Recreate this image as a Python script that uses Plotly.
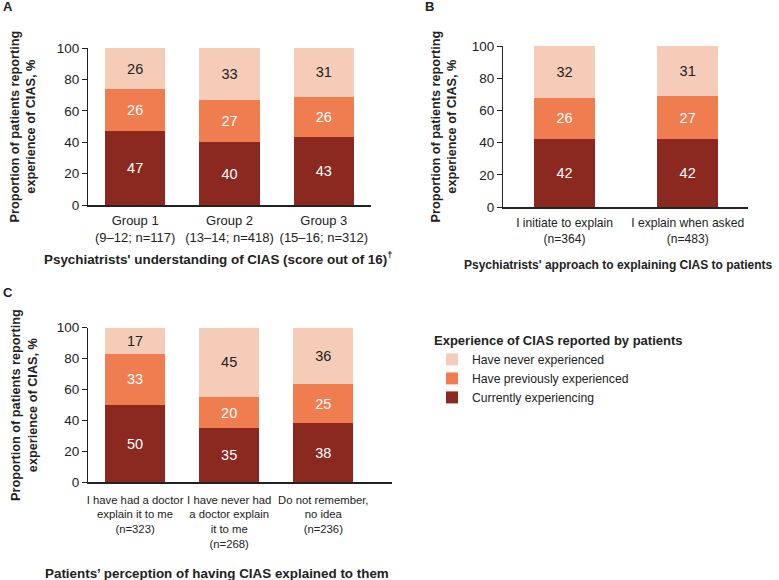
import plotly.graph_objects as go

FONT = "Liberation Sans, Arial, sans-serif"
W, H = 779, 580

series_names = ["Currently experiencing", "Have previously experienced", "Have never experienced"]
series_colors = ["#8B2820", "#F07D4F", "#F5CCB8"]
text_colors = ["#FFFFFF", "#FFFFFF", "#222222"]

# Panel A
cats_a = ["Group 1<br>(9–12; n=117)", "Group 2<br>(13–14; n=418)", "Group 3<br>(15–16; n=312)"]
a_current = [47.2, 40, 43]
a_previous = [26.4, 27, 26]
a_never = [26.4, 33, 31]

# Panel B
cats_b = ["I initiate to explain<br>(n=364)", "I explain when asked<br>(n=483)"]
b_current = [42, 42]
b_previous = [26, 27]
b_never = [32, 31]

# Panel C
cats_c = ["I have had a doctor<br>explain it to me<br>(n=323)",
          "I have never had<br>a doctor explain<br>it to me<br>(n=268)",
          "Do not remember,<br>no idea<br>(n=236)"]
c_current = [50, 35, 38.2]
c_previous = [33, 20, 25.4]
c_never = [17, 45, 36.4]

y_ticks = [0, 20, 40, 60, 80, 100]

panels = [
    ("x", "y", cats_a, [a_current, a_previous, a_never], 0.64, True),
    ("x2", "y2", cats_b, [b_current, b_previous, b_never], 0.5, False),
    ("x3", "y3", cats_c, [c_current, c_previous, c_never], 0.64, False),
]

fig = go.Figure()
for xa, ya, cats, vals, bw, show in panels:
    for i, v in enumerate(vals):
        fig.add_trace(go.Bar(
            x=cats, y=v, name=series_names[i], xaxis=xa, yaxis=ya,
            marker=dict(color=series_colors[i], line=dict(width=0)),
            width=bw, text=v, texttemplate="%{y:.0f}",
            textposition="inside", insidetextanchor="middle", textangle=0,
            textfont=dict(color=text_colors[i], size=14.5, family=FONT),
            legendgroup=series_names[i], showlegend=show, hoverinfo="skip",
        ))


def px(v):
    return v / W


def py(v):
    return 1 - v / H


def xaxis(dom, anchor, rng, fsize, tlen):
    return dict(domain=dom, anchor=anchor, range=rng,
                showline=True, linecolor="#222222", linewidth=1.5, ticks="outside",
                ticklen=tlen, tickcolor="rgba(0,0,0,0)", showgrid=False, zeroline=False,
                tickangle=0, automargin=False,
                tickfont=dict(size=fsize, color="#222222", family=FONT), fixedrange=True)


def yaxis(dom, anchor):
    return dict(domain=dom, anchor=anchor,
                showline=True, linecolor="#222222", linewidth=1, ticks="outside",
                ticklen=5, tickcolor="#222222", showgrid=False, zeroline=False,
                range=[0, 100], tickvals=y_ticks, automargin=False,
                tickfont=dict(size=13.5, color="#222222", family=FONT), fixedrange=True)


fig.update_layout(
    width=W, height=H, margin=dict(l=0, r=0, t=0, b=0, autoexpand=False),
    paper_bgcolor="white", plot_bgcolor="white",
    font=dict(family=FONT, size=13, color="#222222"),
    barmode="stack",
    xaxis=xaxis([px(88), px(371)], "y", [-0.5, 2.5], 13, 3),
    yaxis=yaxis([py(205), py(48)], "x"),
    xaxis2=xaxis([px(503), px(748)], "y2", [-0.5, 1.49], 12.1, 4),
    yaxis2=yaxis([py(207), py(46)], "x2"),
    xaxis3=xaxis([px(88), px(392)], "y3", [-0.5, 2.73], 11.3, 6),
    yaxis3=yaxis([py(482.3), py(327.7)], "x3"),
    legend=dict(
        title=dict(text="<b>Experience of CIAS reported by patients</b>",
                   font=dict(size=13, family=FONT, color="#222222")),
        traceorder="reversed", tracegroupgap=0, x=px(432), y=py(328),
        xanchor="left", yanchor="top",
        font=dict(size=12.2, family=FONT, color="#222222"), bgcolor="rgba(0,0,0,0)",
    ),
)

ytitle = "<b>Proportion of patients reporting<br>experience of CIAS, %</b>"
annotations = [
    dict(text="<b>A</b>", x=px(1), y=py(7), xanchor="left", yanchor="middle", size=13),
    dict(text="<b>B</b>", x=px(423), y=py(7), xanchor="left", yanchor="middle", size=13),
    dict(text="<b>C</b>", x=px(1), y=py(292), xanchor="left", yanchor="middle", size=13),
    dict(text="<b>Psychiatrists' understanding of CIAS (score out of 16)<sup>†</sup></b>",
         x=px(42), y=py(258), xanchor="left", yanchor="middle", size=13.4),
    dict(text="<b>Psychiatrists' approach to explaining CIAS to patients</b>",
         x=px(462), y=py(265), xanchor="left", yanchor="middle", size=12.0),
    dict(text="<b>Patients’ perception of having CIAS explained to them</b>",
         x=px(43), y=py(573), xanchor="left", yanchor="middle", size=13.4),
    dict(text=ytitle, x=px(23), y=py(126.5), textangle=-90, xanchor="center",
         yanchor="middle", size=12.7),
    dict(text=ytitle, x=px(444), y=py(126.5), textangle=-90, xanchor="center",
         yanchor="middle", size=12.7),
    dict(text=ytitle, x=px(24), y=py(405), textangle=-90, xanchor="center",
         yanchor="middle", size=12.7),
]
for a in annotations:
    s = a.pop("size")
    a.update(xref="paper", yref="paper", showarrow=False,
             font=dict(size=s, family=FONT, color="#222222"))
fig.update_layout(annotations=annotations)

fig.write_html("out.html")
